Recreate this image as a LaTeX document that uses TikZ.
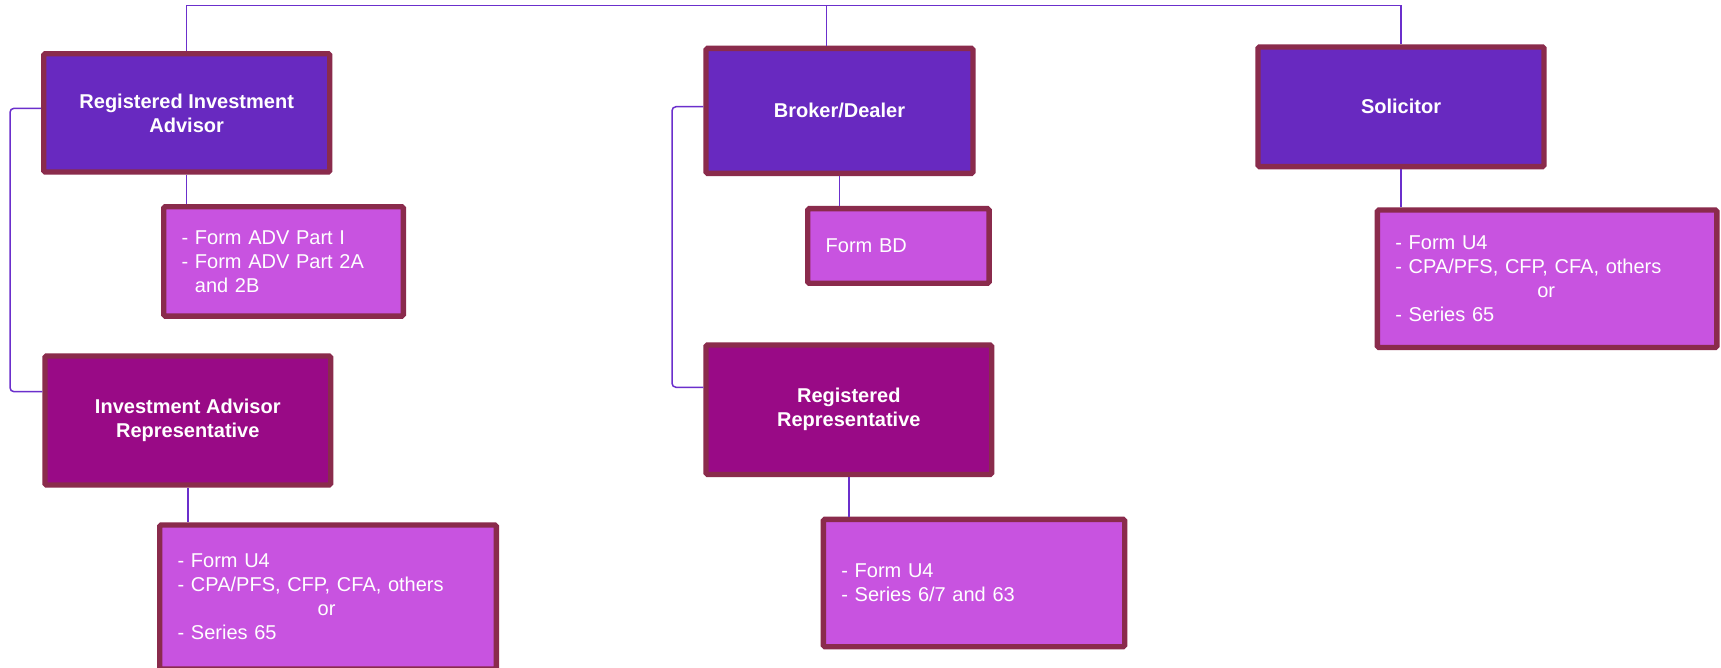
\documentclass[tikz,border=0pt]{standalone}
\usepackage{fontspec}
\setmainfont{Liberation Sans}
\definecolor{bord}{HTML}{8A2B4C}
\definecolor{topfill}{HTML}{6829C0}
\definecolor{repfill}{HTML}{990A86}
\definecolor{formfill}{HTML}{C853E0}
\definecolor{conncol}{HTML}{6B2FCC}
\begin{document}
\begin{tikzpicture}[x=1pt,y=-1pt,
  box/.style={draw=bord, line width=5.3pt, rounded corners=1.5pt, text=white, inner sep=0pt},
  head/.style={box, font=\bfseries\fontsize{20}{24}\selectfont, align=center},
  topbox/.style={head, fill=topfill},
  repbox/.style={head, fill=repfill},
  formbox/.style={box, fill=formfill, font=\fontsize{20}{24}\selectfont, align=left},
  conn/.style={draw=conncol, line width=1.5pt, rounded corners=4pt}]
\useasboundingbox (0,0) rectangle (1721,668);
\fill[white] (0,0) rectangle (1721,668);

% top level
\node[topbox, minimum width=286pt, minimum height=118.4pt] (RIA) at (186.7,112.9) {Registered Investment\\Advisor};
\node[topbox, minimum width=267.1pt, minimum height=125pt] (BD) at (839.5,110.9) {Broker/Dealer};
\node[topbox, minimum width=286.1pt, minimum height=119.7pt] (SOL) at (1401,106.8) {Solicitor};

% representatives
\node[repbox, minimum width=285.7pt, minimum height=129.1pt] (IAR) at (187.8,420.5) {Investment Advisor\\Representative};
\node[repbox, minimum width=285.7pt, minimum height=129.4pt] (RR) at (848.8,409.7) {Registered\\Representative};

% forms
\node[formbox, minimum width=239.7pt, minimum height=109.4pt, text width=203.7pt] (ADV) at (283.5,261.4)
  {- Form ADV Part I\\- Form ADV Part 2A\\\phantom{- }and 2B};
\node[formbox, minimum width=181.4pt, minimum height=74.7pt, text width=145.4pt] (FBD) at (898.4,246) {Form BD};
\node[formbox, minimum width=339.5pt, minimum height=137.4pt, text width=303.5pt] (SOLF) at (1547.1,278.7)
  {- Form U4\\- CPA/PFS, CFP, CFA, others\\\hspace*{142pt}or\\- Series 65};
\node[formbox, minimum width=336.7pt, minimum height=144.1pt, text width=300.7pt] (IARF) at (328,597)
  {- Form U4\\- CPA/PFS, CFP, CFA, others\\\hspace*{140pt}or\\- Series 65};
\node[formbox, minimum width=301.3pt, minimum height=127.3pt, text width=265.3pt] (RRF) at (974,583)
  {- Form U4\\- Series 6/7 and 63};

% connectors
\coordinate (bus) at (826.7,5.7);
\coordinate (leftA) at (10,250);
\coordinate (leftB) at (672,250);
\draw[conn, rounded corners=0pt] (RIA.north) |- (bus) -| (SOL.north);
\draw[conn] (bus) -- (bus |- BD.north);
\draw[conn] (RIA.south) -- (RIA.south |- ADV.north);
\draw[conn] (BD.south) -- (BD.south |- FBD.north);
\draw[conn] (SOL.south) -- (SOL.south |- SOLF.north);
\draw[conn] (IAR.south) -- (IAR.south |- IARF.north);
\draw[conn] (RR.south) -- (RR.south |- RRF.north);
\draw[conn] ([yshift=4.6pt]RIA.west) -| (leftA) |- ([yshift=28.8pt]IAR.west);
\draw[conn] ([yshift=4.2pt]BD.west) -| (leftB) |- ([yshift=22.4pt]RR.west);
\end{tikzpicture}
\end{document}
